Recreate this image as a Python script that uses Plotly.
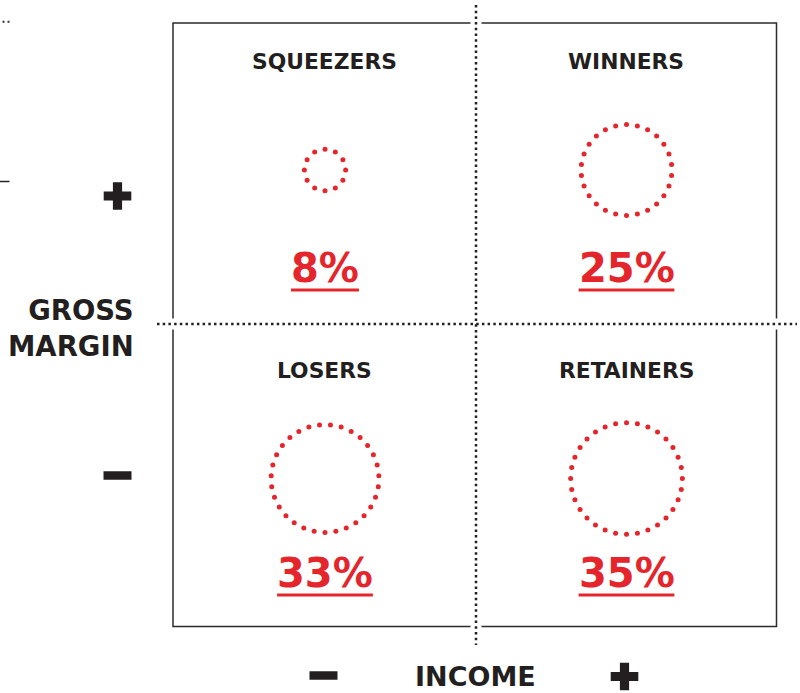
import numpy as np
import plotly.graph_objects as go

# ---- data ----
segments = ["SQUEEZERS", "WINNERS", "LOSERS", "RETAINERS"]
shares = [8, 25, 33, 35]                 # percent of companies
income_side = ["-", "+", "-", "+"]       # column (x) of each quadrant
margin_side = ["+", "+", "-", "-"]       # row (y) of each quadrant
x_title = "INCOME"
y_title = "GROSS<br>MARGIN"

# ---- layout / style constants ----
W, H = 800, 693
RED = "#e4262c"
INK = "#231f20"
FONT = "DejaVu Sans"
COL = {"-": 325, "+": 626.5}
ROW = {"+": dict(circle=170, label=61.5, pct=268),
       "-": dict(circle=478.5, label=370.5, pct=573)}
BOX = dict(x0=173, x1=776.5, y0=23, y1=626.5)
VLINE_X, HLINE_Y = 476, 324
ADV = {"%": 1.002}  # DejaVu Sans Bold advance widths (em)


def radius(p):
    return -11.6 + 11.4 * np.sqrt(p)


fig = go.Figure()
shapes = []
annotations = []

# frame
shapes.append(dict(type="rect", xref="x", yref="y", **BOX,
                   line=dict(color="#2b2b2b", width=1.5), layer="below"))
# white gaps where the dotted dividers cross the frame
shapes.append(dict(type="line", xref="x", yref="y", x0=VLINE_X, x1=VLINE_X, y0=5, y1=645,
                   line=dict(color="white", width=11), layer="below"))
shapes.append(dict(type="line", xref="x", yref="y", x0=157, x1=797, y0=HLINE_Y, y1=HLINE_Y,
                   line=dict(color="white", width=11), layer="below"))
# dotted dividers
shapes.append(dict(type="line", xref="x", yref="y", x0=VLINE_X, x1=VLINE_X, y0=5, y1=645,
                   line=dict(color="#222", width=2.5, dash="2.5px,3.2px")))
shapes.append(dict(type="line", xref="x", yref="y", x0=157, x1=797, y0=HLINE_Y, y1=HLINE_Y,
                   line=dict(color="#222", width=2.5, dash="2.5px,3.2px")))
# small cropped-edge remnants at the left border
shapes.append(dict(type="line", xref="x", yref="y", x0=2.5, x1=11, y0=21.7, y1=21.7,
                   line=dict(color="#333", width=2, dash="2px,3px")))
shapes.append(dict(type="line", xref="x", yref="y", x0=0, x1=9.5, y0=181.5, y1=181.5,
                   line=dict(color="#222", width=1.5)))

for seg, p, ix, iy in zip(segments, shares, income_side, margin_side):
    cx = COL[ix]
    row = ROW[iy]
    cy = row["circle"]
    r = radius(p)
    n = int(round(2 * np.pi * r / 10.8))
    ang = np.linspace(0, 2 * np.pi, n, endpoint=False) + np.pi / 2
    fig.add_trace(go.Scatter(
        x=cx + r * np.cos(ang), y=cy + r * np.sin(ang), mode="markers",
        marker=dict(size=5, color=RED, line=dict(width=0)),
        hoverinfo="skip", showlegend=False))
    annotations.append(dict(x=cx - 0.5, y=row["label"], xref="x", yref="y", text=f"<b>{seg}</b>",
                            showarrow=False, xanchor="center", yanchor="middle",
                            font=dict(family=FONT, size=21.8, color=INK)))
    label = f"{p}%"
    fs = 40
    annotations.append(dict(x=cx, y=row["pct"], xref="x", yref="y", text=f"<b>{label}</b>",
                            showarrow=False, xanchor="center", yanchor="middle",
                            font=dict(family=FONT, size=fs, color=RED)))
    tw = fs * sum(ADV.get(ch, 0.696) for ch in label)
    shapes.append(dict(type="line", xref="x", yref="y", x0=cx - tw / 2, x1=cx + tw / 2,
                       y0=row["pct"] + 22, y1=row["pct"] + 22,
                       line=dict(color=RED, width=2.8)))

# axis titles
annotations.append(dict(x=136, y=328, xref="x", yref="y", text=f"<b>{y_title}</b>",
                        showarrow=False, xanchor="right", yanchor="middle", align="right",
                        font=dict(family=FONT, size=27.5, color=INK)))
annotations.append(dict(x=475, y=676, xref="x", yref="y", text=f"<b>{x_title}</b>",
                        showarrow=False, xanchor="center", yanchor="middle",
                        font=dict(family=FONT, size=27, color=INK)))

# plus / minus sign markers for the axes
fig.add_trace(go.Scatter(x=[117.5, 624.5], y=[196, 676.5], mode="markers",
                         marker=dict(symbol="cross", size=23, color=INK, line=dict(width=0)),
                         hoverinfo="skip", showlegend=False))
fig.add_trace(go.Scatter(x=[117.5, 323.5], y=[475.5, 675.5], mode="markers",
                         marker=dict(symbol="line-ew", size=20, color=INK,
                                     line=dict(width=8.5, color=INK)),
                         hoverinfo="skip", showlegend=False))

fig.update_layout(
    width=W, height=H, margin=dict(l=0, r=0, t=0, b=0),
    paper_bgcolor="white", plot_bgcolor="white",
    xaxis=dict(range=[0, W], visible=False, fixedrange=True),
    yaxis=dict(range=[H, 0], visible=False, fixedrange=True),
    shapes=shapes, annotations=annotations, showlegend=False,
)

fig.write_html("out.html", config={"displayModeBar": False},
               post_script="document.body.style.margin='0';document.body.style.overflow='hidden';")
